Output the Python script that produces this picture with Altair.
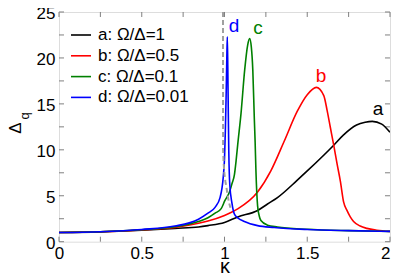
import altair as alt
import pandas as pd

# ---- data ----
series_names = ["a: Ω/Δ=1", "b: Ω/Δ=0.5", "c: Ω/Δ=0.1", "d: Ω/Δ=0.01"]
series_colors = ["#000000", "#ff0000", "#008000", "#0000ff"]

k_a = [0, 0.25, 0.5, 0.7, 0.843, 0.9, 1.0, 1.08, 1.2, 1.26, 1.32, 1.44, 1.5, 1.66, 1.718, 1.798, 1.85, 1.893, 1.95, 2.0]
d_a = [1.0, 1.07, 1.25, 1.45, 1.6, 1.75, 2.1, 2.7, 3.4, 4.1, 4.8, 6.7, 7.7, 10.5, 11.6, 12.7, 13.0, 13.1, 12.8, 11.9]

k_b = [0, 0.25, 0.5, 0.7, 0.843, 0.9, 1.0, 1.042, 1.08, 1.2, 1.28, 1.36, 1.44, 1.5, 1.555, 1.6, 1.62, 1.64, 1.66, 1.68, 1.70, 1.72, 1.74, 1.76, 1.78, 1.82, 1.86, 1.92, 2.0]
d_b = [1.0, 1.08, 1.28, 1.55, 2.0, 2.25, 2.86, 3.2, 3.57, 5.4, 7.7, 10.9, 14.2, 16.0, 16.8, 15.9, 14.3, 12.4, 10.5, 8.5, 6.6, 4.3, 3.4, 2.7, 2.2, 1.7, 1.45, 1.25, 1.12]

k_c = [0, 0.25, 0.5, 0.7, 0.843, 0.9, 0.943, 0.98, 1.002, 1.03, 1.045, 1.06, 1.07, 1.08, 1.1, 1.122, 1.14, 1.152, 1.162, 1.171, 1.18, 1.185, 1.19, 1.2, 1.21, 1.22, 1.26, 1.32, 1.5, 1.75, 2.0]
d_c = [1.0, 1.08, 1.3, 1.62, 2.2, 2.6, 3.1, 3.6, 4.46, 5.4, 6.3, 7.3, 8.8, 10.6, 14.0, 18.7, 21.4, 22.1, 21.2, 18.7, 13.5, 10.9, 7.7, 3.9, 2.8, 2.3, 1.8, 1.6, 1.35, 1.2, 1.12]

k_d = [0, 0.25, 0.5, 0.7, 0.843, 0.9, 0.943, 0.973, 0.992, 1.0, 1.005, 1.01, 1.014, 1.017, 1.02, 1.023, 1.026, 1.032, 1.045, 1.06, 1.08, 1.12, 1.2, 1.3, 1.5, 1.75, 2.0]
d_d = [1.0, 1.09, 1.33, 1.7, 2.45, 3.1, 3.74, 4.8, 6.95, 9.0, 12.0, 16.0, 20.0, 22.3, 19.0, 14.0, 9.8, 6.2, 4.2, 3.0, 2.6, 2.2, 1.75, 1.55, 1.33, 1.2, 1.12]

k_limit = [0.991, 0.9912, 0.9915, 0.995, 1.0, 1.006, 1.012, 1.02, 1.028, 1.036]
d_limit = [25, 15, 10, 8.5, 7.3, 6.5, 5.9, 4.9, 4.2, 3.7]

peak_letters = ["a", "b", "c", "d"]
peak_k = [1.927, 1.583, 1.202, 1.057]
peak_d = [14.4, 18.0, 23.3, 23.5]

x_tick_values = [0, 0.5, 1, 1.5, 2]
y_tick_values = [0, 5, 10, 15, 20, 25]
x_minor = [0.25 * i for i in range(9)]
y_minor = [2.5 * i for i in range(11)]

# ---- tables ----
rows = []
for name, ks, ds in zip(series_names, [k_a, k_b, k_c, k_d], [d_a, d_b, d_c, d_d]):
    for k, d in zip(ks, ds):
        rows.append({"s": name, "k": k, "d": d})
df = pd.DataFrame(rows)
df_limit = pd.DataFrame({"k": k_limit, "d": d_limit})
df_peak = pd.DataFrame({"t": peak_letters, "k": peak_k, "d": peak_d, "col": series_colors})
df_xt = pd.DataFrame({"k": x_minor})
df_yt = pd.DataFrame({"d": y_minor})

W = 331
H = 229.7
FONT = "Liberation Sans"
GRAY = "#808080"

xs = alt.Scale(domain=[0, 2], nice=False, zero=False)
ys = alt.Scale(domain=[0, 25], nice=False, zero=False)

x_axis = alt.Axis(values=x_tick_values, format="~g", title="κ", tickSize=0, domain=False, grid=False,
                  labelFontSize=17, labelFont=FONT, labelColor="black", labelPadding=4, labelFlush=False,
                  labelAlign={"condition": {"test": "datum.value === 2", "value": "right"}, "value": "center"},
                  titleFontSize=20, titleFont=FONT, titleFontWeight="normal", titleColor="black", titlePadding=-5)
y_axis = alt.Axis(values=y_tick_values, format="d", title="", tickSize=0, domain=False, grid=False,
                  labelFontSize=17, labelFont=FONT, labelColor="black", labelPadding=4, labelFlush=False,
                  labelOffset=1.5)

lines = alt.Chart(df).mark_line(strokeWidth=1.6, interpolate="monotone", clip=True).encode(
    x=alt.X("k:Q", scale=xs, axis=x_axis),
    y=alt.Y("d:Q", scale=ys, axis=y_axis),
    color=alt.Color("s:N", scale=alt.Scale(domain=series_names, range=series_colors),
                    legend=alt.Legend(title=None, orient="none", legendX=11, legendY=12,
                                      symbolType="stroke", symbolSize=400, symbolStrokeWidth=1.6,
                                      labelFontSize=17, labelFont=FONT, labelColor="black",
                                      labelOffset=6, rowPadding=1.8, padding=0)),
)

limit = alt.Chart(df_limit).mark_line(strokeWidth=2, strokeDash=[5, 3], color="#a0a0a0", clip=True).encode(
    x=alt.X("k:Q", scale=xs), y=alt.Y("d:Q", scale=ys))

peaks = alt.Chart(df_peak).mark_text(fontSize=19, font=FONT, baseline="middle", align="center").encode(
    x=alt.X("k:Q", scale=xs), y=alt.Y("d:Q", scale=ys), text="t:N", color=alt.Color("col:N", scale=None))

tl = 5
xt_bottom = alt.Chart(df_xt).mark_rule(color=GRAY, strokeWidth=1).encode(
    x=alt.X("k:Q", scale=xs), y=alt.value(H), y2=alt.value(H - tl))
xt_top = alt.Chart(df_xt).mark_rule(color=GRAY, strokeWidth=1).encode(
    x=alt.X("k:Q", scale=xs), y=alt.value(0), y2=alt.value(tl))
yt_left = alt.Chart(df_yt).mark_rule(color=GRAY, strokeWidth=1).encode(
    y=alt.Y("d:Q", scale=ys), x=alt.value(0), x2=alt.value(tl))
yt_right = alt.Chart(df_yt).mark_rule(color=GRAY, strokeWidth=1).encode(
    y=alt.Y("d:Q", scale=ys), x=alt.value(W), x2=alt.value(W - tl))

ytitle_df = pd.DataFrame({"t": ["Δ"]})
qtitle_df = pd.DataFrame({"t": ["q"]})
ytitle = alt.Chart(ytitle_df).mark_text(fontSize=17, font=FONT, angle=270, align="center", baseline="middle",
                                        color="black").encode(
    text="t:N", x=alt.value(-43), y=alt.value(116))
qtitle = alt.Chart(qtitle_df).mark_text(fontSize=13, font=FONT, angle=270, align="center", baseline="middle",
                                        color="black").encode(
    text="t:N", x=alt.value(-34), y=alt.value(104))

chart = alt.layer(xt_bottom, xt_top, yt_left, yt_right, lines, limit, peaks, ytitle, qtitle).properties(
    width=W, height=H,
    autosize=alt.AutoSizeParams(type="none"),
    padding={"left": 51, "top": 4, "right": 1, "bottom": 35},
).configure_view(stroke=GRAY, strokeWidth=1.5).configure(font=FONT)

chart.save("out.html", embed_options={"renderer": "svg", "actions": False})
